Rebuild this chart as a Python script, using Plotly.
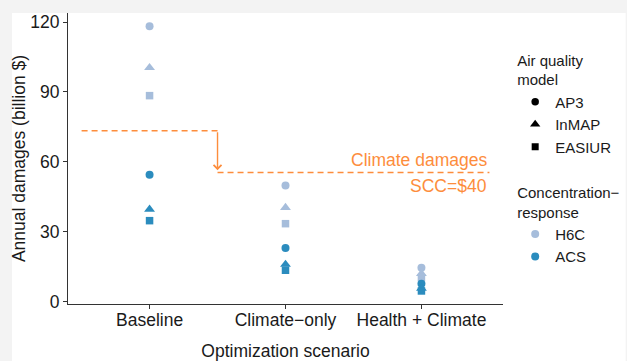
import plotly.graph_objects as go

# ---- data ----
scenarios = ["Baseline", "Climate\u2212only", "Health + Climate"]
models = ["AP3", "InMAP", "EASIUR"]
cr_functions = ["H6C", "ACS"]

h6c_ap3 = [118.2, 49.8, 14.5]
h6c_inmap = [100.4, 40.3, 12.0]
h6c_easiur = [88.4, 33.4, 10.2]
acs_ap3 = [54.4, 23.0, 7.6]
acs_inmap = [39.6, 15.9, 5.6]
acs_easiur = [34.7, 13.4, 4.5]

climate_damages = [73.3, 55.4]   # Baseline, optimized scenarios (SCC=$40)
y_ticks = [0, 30, 60, 90, 120]

# ---- styles ----
FONT = "Liberation Sans, Arial, sans-serif"
TXT = "#1a1a1a"
AX = "#333333"
ORANGE = "#fd8d3c"
PAGE = "#f3f3f3"
cr_colors = {"H6C": "#a6bddb", "ACS": "#2b8cbe"}
symbols = {"AP3": "circle", "InMAP": "triangle-up", "EASIUR": "square"}
sizes = {"AP3": 8, "InMAP": 9.5, "EASIUR": 7.5}

series = {
    ("H6C", "AP3"): h6c_ap3, ("H6C", "InMAP"): h6c_inmap, ("H6C", "EASIUR"): h6c_easiur,
    ("ACS", "AP3"): acs_ap3, ("ACS", "InMAP"): acs_inmap, ("ACS", "EASIUR"): acs_easiur,
}

fig = go.Figure()
for cr in cr_functions:
    for m in models:
        fig.add_trace(go.Scatter(
            x=scenarios, y=series[(cr, m)], mode="markers",
            marker=dict(symbol=symbols[m], size=sizes[m], color=cr_colors[cr], line=dict(width=0)),
            showlegend=False, name=f"{cr} {m}"))

# legend 1: air quality model (shapes)
for m in models:
    fig.add_trace(go.Scatter(
        x=[None], y=[None], mode="markers", name=m, legend="legend",
        marker=dict(symbol=symbols[m], size=sizes[m] - 0.5, color="black", line=dict(width=0))))
# legend 2: concentration-response (colors)
for cr in cr_functions:
    fig.add_trace(go.Scatter(
        x=[None], y=[None], mode="markers", name=cr, legend="legend2",
        marker=dict(symbol="circle", size=8, color=cr_colors[cr], line=dict(width=0))))

shapes = [
    # white panel on gray page
    dict(type="rect", xref="paper", yref="paper", x0=-0.1287, x1=1.282, y0=-0.4, y1=1.0,
         fillcolor="white", line=dict(width=0), layer="below"),
    # climate damages, baseline
    dict(type="line", xref="x", yref="y", x0=-0.5, x1=0.5,
         y0=climate_damages[0], y1=climate_damages[0],
         line=dict(color=ORANGE, width=1.6, dash="6px,4px")),
    # climate damages, optimized
    dict(type="line", xref="x", yref="y", x0=0.5, x1=2.5,
         y0=climate_damages[1], y1=climate_damages[1],
         line=dict(color=ORANGE, width=1.6, dash="6px,4px")),
]

annotations = [
    dict(x=0.5, y=climate_damages[1] + 1.0, ax=0.5, ay=climate_damages[0],
         xref="x", yref="y", axref="x", ayref="y", text="", showarrow=True,
         arrowhead=4, arrowsize=1.1, arrowwidth=1.4, arrowcolor=ORANGE),
    dict(x=2.5, y=climate_damages[1], xref="x", yref="y", text="Climate damages",
         showarrow=False, xanchor="right", yanchor="bottom", yshift=0,
         font=dict(family=FONT, size=17.5, color=ORANGE)),
    dict(x=2.5, y=climate_damages[1], xref="x", yref="y", text="SCC=$40",
         showarrow=False, xanchor="right", yanchor="top", yshift=-2,
         font=dict(family=FONT, size=17.5, color=ORANGE)),
]

fig.update_layout(
    width=627, height=361,
    margin=dict(l=68, r=124, t=13, b=56.5, autoexpand=False),
    paper_bgcolor=PAGE, plot_bgcolor="white",
    font=dict(family=FONT, size=17.5, color=TXT),
    shapes=shapes, annotations=annotations,
    xaxis=dict(type="category", categoryorder="array", categoryarray=scenarios,
               range=[-0.6, 2.6], showline=True, linecolor=AX, linewidth=1.1,
               ticks="outside", ticklen=4, tickcolor=AX, tickwidth=1.1,
               ticklabelstandoff=-4,
               showgrid=False, zeroline=False, automargin=False,
               tickfont=dict(family=FONT, size=17.5, color=TXT),
               title=dict(text="Optimization scenario", standoff=18,
                          font=dict(family=FONT, size=17.5, color=TXT))),
    yaxis=dict(range=[-1.1, 123.9], tickvals=y_ticks, showline=True, linecolor=AX,
               linewidth=1.1, ticks="outside", ticklen=4, tickcolor=AX, tickwidth=1.1,
               showgrid=False, zeroline=False, automargin=False,
               tickfont=dict(family=FONT, size=17.5, color=TXT),
               title=dict(text="Annual damages (billion $)", standoff=0,
                          font=dict(family=FONT, size=17.5, color=TXT))),
    legend=dict(x=1.028, xanchor="left", y=0.885, yanchor="top",
                bgcolor="rgba(0,0,0,0)", font=dict(family=FONT, size=15, color=TXT),
                title=dict(text="Air quality<br>model", font=dict(family=FONT, size=15, color=TXT)),
                itemwidth=30, tracegroupgap=0),
    legend2=dict(x=1.028, xanchor="left", y=0.43, yanchor="top",
                 bgcolor="rgba(0,0,0,0)", font=dict(family=FONT, size=15, color=TXT),
                 title=dict(text="Concentration\u2212<br>response", font=dict(family=FONT, size=15, color=TXT)),
                 itemwidth=30, tracegroupgap=0),
)

fig.write_html(
    "out.html",
    config={"displayModeBar": False},
    post_script="document.body.style.margin='0';document.body.style.background='%s';" % PAGE,
)
